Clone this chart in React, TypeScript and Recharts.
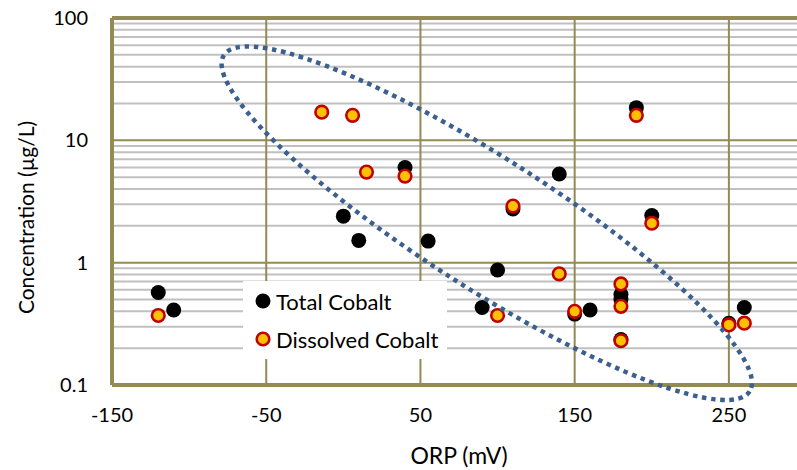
import { ScatterChart, Scatter, XAxis, YAxis, ReferenceLine, ReferenceDot } from "recharts";

// ORP (mV) vs cobalt concentration (µg/L)
const totalCobalt = [
  { orp: -120, conc: 0.57 },
  { orp: -110, conc: 0.41 },
  { orp: 0, conc: 2.4 },
  { orp: 10, conc: 1.52 },
  { orp: 40, conc: 6.0 },
  { orp: 55, conc: 1.5 },
  { orp: 90, conc: 0.43 },
  { orp: 100, conc: 0.87 },
  { orp: 110, conc: 2.75 },
  { orp: 140, conc: 5.3 },
  { orp: 150, conc: 0.38 },
  { orp: 160, conc: 0.41 },
  { orp: 180, conc: 0.55 },
  { orp: 180, conc: 0.5 },
  { orp: 180, conc: 0.235 },
  { orp: 190, conc: 18.5 },
  { orp: 200, conc: 2.43 },
  { orp: 250, conc: 0.32 },
  { orp: 260, conc: 0.43 },
];

const dissolvedCobalt = [
  { orp: -120, conc: 0.37 },
  { orp: -14, conc: 17 },
  { orp: 6, conc: 16 },
  { orp: 15, conc: 5.5 },
  { orp: 40, conc: 5.1 },
  { orp: 100, conc: 0.37 },
  { orp: 110, conc: 2.9 },
  { orp: 140, conc: 0.81 },
  { orp: 150, conc: 0.4 },
  { orp: 180, conc: 0.67 },
  { orp: 180, conc: 0.44 },
  { orp: 180, conc: 0.23 },
  { orp: 190, conc: 16 },
  { orp: 200, conc: 2.1 },
  { orp: 250, conc: 0.31 },
  { orp: 260, conc: 0.32 },
];

const xTicks = [-150, -50, 50, 150, 250];
const yTicks = [0.1, 1, 10, 100];
const yMinor = [0.2, 0.3, 0.4, 0.5, 0.6, 0.7, 0.8, 0.9, 2, 3, 4, 5, 6, 7, 8, 9, 20, 30, 40, 50, 60, 70, 80, 90];
const seriesNames = ["Total Cobalt", "Dissolved Cobalt"];

// the dotted ellipse drawn round the data (center in data units)
const ellipseCenter = { orp: 93, conc: 2.1 };

const OLIVE = "#948A54";
const GRID = "#C0C0C0";
const FONT = "Lato, 'Open Sans', sans-serif";
const TOP = 18;
const PLOT_H = 367;

const blackDot = (p: any) => <circle cx={p.cx} cy={p.cy} r={7.5} fill="#000" />;
const yellowDot = (p: any) => (
  <circle cx={p.cx} cy={p.cy} r={6.3} fill="#FFC000" stroke="#C00000" strokeWidth={2.6} />
);

const EllipseShape = (p: any) => (
  <ellipse
    cx={p.cx}
    cy={p.cy}
    rx={312}
    ry={65}
    transform={`rotate(32.6 ${p.cx} ${p.cy})`}
    fill="none"
    stroke="#3B6090"
    strokeWidth={4.5}
    strokeDasharray="4.5 4.7"
  />
);

const yTitleY = TOP + PLOT_H / 2 + 16;

export default function App() {
  return (
    <div style={{ position: "absolute", left: 0, top: 0, width: 797, height: 470, overflow: "hidden", background: "#fff", fontFamily: FONT }}>
      <ScatterChart width={820} height={470} margin={{ top: TOP, right: 14, left: 0, bottom: 0 }}>
        <XAxis
          type="number"
          dataKey="orp"
          domain={[-150, 300]}
          ticks={xTicks}
          allowDataOverflow
          tickLine={false}
          tickSize={0}
          tickMargin={23}
          height={470 - TOP - PLOT_H}
          axisLine={{ stroke: OLIVE, strokeWidth: 4 }}
          tick={{ fill: "#000", fontSize: 20, fontFamily: FONT }}
          label={{ value: "ORP (mV)", position: "insideBottom", offset: 6, fill: "#000", fontSize: 23, fontFamily: FONT }}
        />
        <YAxis
          type="number"
          dataKey="conc"
          scale="log"
          domain={[0.1, 100]}
          ticks={yTicks}
          allowDataOverflow
          tickLine={false}
          tickSize={0}
          tickMargin={24}
          width={112}
          axisLine={{ stroke: OLIVE, strokeWidth: 4 }}
          tickFormatter={(v: number) => String(v)}
          tick={{ fill: "#000", fontSize: 20, fontFamily: FONT }}
          label={{
            content: () => (
              <text x={25} y={yTitleY} transform={`rotate(-90 25 ${yTitleY})`} textAnchor="middle" dominantBaseline="central" fontSize={21} fontFamily={FONT} fill="#000">
                Concentration (µg/L)
              </text>
            ),
          }}
        />
        {yMinor.map((v) => (
          <ReferenceLine key={"m" + v} y={v} stroke={GRID} strokeWidth={2} />
        ))}
        {xTicks.slice(1).map((v) => (
          <ReferenceLine key={"x" + v} x={v} stroke={OLIVE} strokeWidth={2} />
        ))}
        {yTicks.slice(1).map((v) => (
          <ReferenceLine key={"y" + v} y={v} stroke={OLIVE} strokeWidth={v === 100 ? 4 : 2} />
        ))}
        <ReferenceLine x={-150} stroke="#C8C8C8" strokeWidth={1.5} />
        <ReferenceLine y={0.1} stroke="#C8C8C8" strokeWidth={1.5} />
        <Scatter name={seriesNames[0]} data={totalCobalt} shape={blackDot} isAnimationActive={false} />
        <Scatter name={seriesNames[1]} data={dissolvedCobalt} shape={yellowDot} isAnimationActive={false} />
        <ReferenceDot x={ellipseCenter.orp} y={ellipseCenter.conc} ifOverflow="visible" shape={EllipseShape} />
      </ScatterChart>
      <div style={{ position: "absolute", left: 243, top: 281, width: 204, height: 78, background: "#fff" }}>
        {seriesNames.map((name, i) => (
          <div key={name} style={{ position: "absolute", left: 11, top: 7 + i * 38, height: 26, display: "flex", alignItems: "center", fontSize: 22, color: "#000", whiteSpace: "nowrap" }}>
            <svg width={20} height={20} style={{ marginRight: 2 }}>
              {i === 0 ? (
                <circle cx={9} cy={10} r={7.5} fill="#000" />
              ) : (
                <circle cx={9} cy={10} r={6.3} fill="#FFC000" stroke="#C00000" strokeWidth={2.6} />
              )}
            </svg>
            {name}
          </div>
        ))}
      </div>
    </div>
  );
}
